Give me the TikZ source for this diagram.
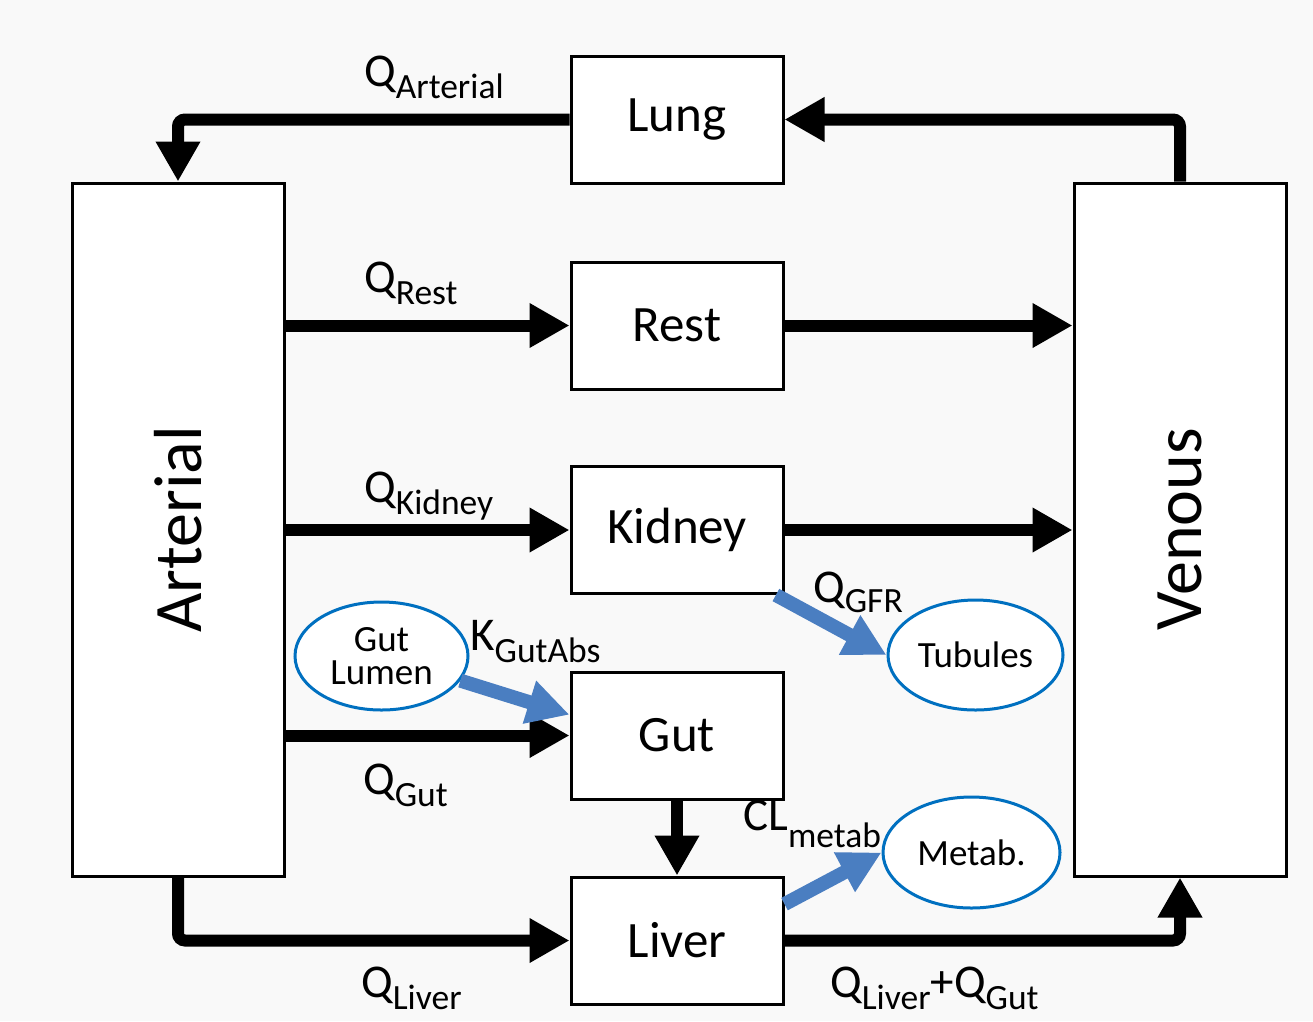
\documentclass[tikz,border=0pt]{standalone}
\usepackage{fontspec}
\setmainfont{Carlito}
\usetikzlibrary{arrows.meta,shapes.geometric,calc}
\definecolor{bg}{RGB}{249,249,249}
\definecolor{ellblue}{RGB}{0,112,192}
\definecolor{arrblue}{RGB}{74,126,193}
\newcommand{\QS}[3][12pt]{#2\raisebox{-#1}{\fontsize{35.5}{35.5}\selectfont #3}}
\begin{document}
\begin{tikzpicture}[x=1pt,y=-1pt,
  box/.style={draw,line width=3pt,fill=white,minimum width=212pt,minimum height=127pt,inner sep=0pt,font=\fontsize{51}{51}\selectfont},
  tall/.style={box,minimum height=693pt,font=\fontsize{68}{68}\selectfont},
  ell/.style={ellipse,draw=ellblue,line width=3pt,fill=white,inner sep=0pt,font=\fontsize{37}{32.5}\selectfont,align=center},
  flow/.style={line width=12pt,-{Triangle[length=40pt,width=42pt]},rounded corners=7pt},
  bflow/.style={line width=14pt,draw=arrblue,-{Triangle[length=42pt,width=42pt,fill=arrblue]}},
  lab/.style={anchor=base west,inner sep=0pt,font=\fontsize{47}{47}\selectfont}]
\fill[bg] (0,0) rectangle (1313,1021);
\useasboundingbox (0,0) rectangle (1313,1021);

% boxes
\node[tall] (art) at (178,529.5) {\rotatebox{90}{Arterial}};
\node[tall] (ven) at (1180,529.5) {\rotatebox{90}{Venous}};
\node[box] (lung) at (677,119.5) {Lung};
\node[box] (rest) at (677,325.5) {Rest};
\node[box] (kid) at (677,530) {Kidney};
\node[box] (gut) at (677,735.5) {Gut};
\node[box] (liver) at (677,940.5) {Liver};

% ellipses
\node[ell,minimum width=173pt,minimum height=108pt] (lumen) at (381.5,656) {Gut\\Lumen};
\node[ell,minimum width=175pt,minimum height=110pt] (tub) at (975.5,655) {Tubules};
\node[ell,minimum width=177pt,minimum height=111pt] (met) at (971.5,852.5) {Metab.};

% black flows
\draw[flow] (lung.west) -| (art.north);
\draw[flow] (ven.north) |- (lung.east);
\draw[flow] (art.east |- rest.west) -- (rest.west);
\draw[flow] (rest.east) -- (ven.west |- rest.east);
\draw[flow] (art.east |- kid.west) -- (kid.west);
\draw[flow] (kid.east) -- (ven.west |- kid.east);
\draw[flow] (art.east |- gut.west) -- (gut.west);
\draw[flow] (gut.south) -- (liver.north);
\draw[flow] (art.south) |- (liver.west);
\draw[flow] (liver.east) -| (ven.south);

% blue flows
\draw[bflow] (lumen) -- ($(gut.north west)!0.34!(gut.south west)$);
\draw[bflow] ($(kid.south west)!0.96!(kid.south east)$) -- (tub.west);
\draw[bflow] ($(liver.north east)!0.22!(liver.south east)$) -- (met.west);

% labels
\node[lab] (lqart) at (364,86) {\QS{Q}{Arterial}};
\node[lab] (lqrest) at (364,292) {\QS{Q}{Rest}};
\node[lab] (lqkid) at (364,502) {\QS{Q}{Kidney}};
\node[lab] (lkabs) at (470,650) {\QS{K}{GutAbs}};
\node[lab] (lqgut) at (363,794) {\QS{Q}{Gut}};
\node[lab] (lqgfr) at (813,602) {\QS[10pt]{Q}{GFR}};
\node[lab] (lcl) at (743,830) {\QS[17pt]{CL}{metab}};
\node[lab] (lqliv) at (361,997) {\QS{Q}{Liver}};
\node[lab] (lqlg) at (830,997) {\QS{Q}{Liver}+\QS{Q}{Gut}};
\end{tikzpicture}
\end{document}
